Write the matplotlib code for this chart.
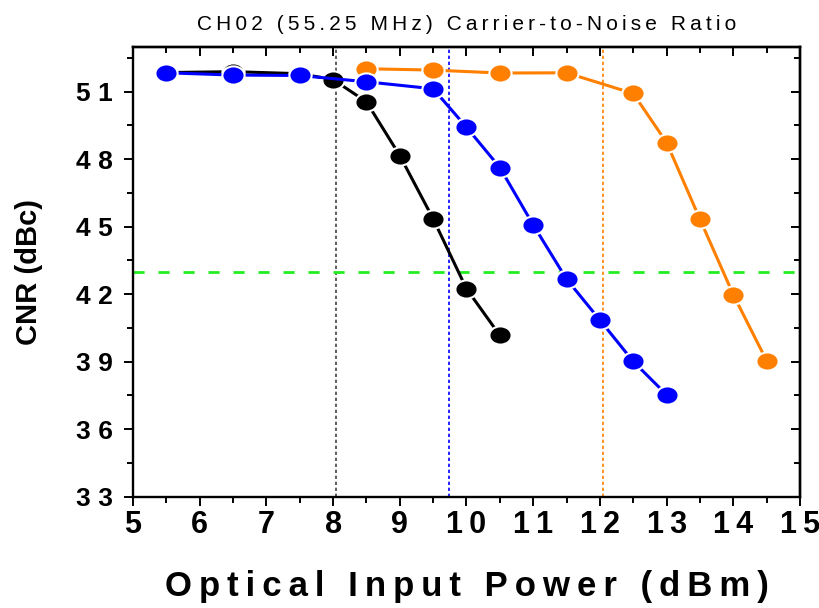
import matplotlib
matplotlib.use("Agg")
import matplotlib.pyplot as plt
import numpy as np
from matplotlib.path import Path

# CNR vs optical input power, three receiver configurations
power_black = [5.5, 6.5, 7.5, 8.0, 8.5, 9.0, 9.5, 10.0, 10.5]
cnr_black = [51.85, 51.89, 51.80, 51.54, 50.55, 48.16, 45.35, 42.24, 40.17]

power_blue = [5.5, 6.5, 7.5, 8.5, 9.5, 10.0, 10.5, 11.0, 11.5, 12.0, 12.5, 13.0]
cnr_blue = [51.84, 51.74, 51.72, 51.44, 51.13, 49.42, 47.63, 45.08, 42.67, 40.85, 39.01, 37.53]

power_orange = [8.5, 9.5, 10.5, 11.5, 12.5, 13.0, 13.5, 14.0, 14.5]
cnr_orange = [52.02, 51.96, 51.83, 51.84, 50.92, 48.74, 45.33, 41.98, 39.04]

# power where each curve crosses the 43 dBc limit
crossings = [8.05, 9.74, 12.05]
crossing_colors = ["#444444", "#0000ff", "#ff8000"]
cnr_limit = 43

x_ticks = [5, 6, 7, 8, 9, 10, 11, 12, 13, 14, 15]
y_ticks = [33, 36, 39, 42, 45, 48, 51]

SANS = ["Liberation Sans", "DejaVu Sans"]


def spaced(s, gap="\u2009"):
    return gap.join(s)


# slightly flattened dot marker
circ = Path.unit_circle()
dot = Path(circ.vertices * np.array([1.0, 0.82]), circ.codes)

fig = plt.figure(figsize=(8.2, 6.08), dpi=100)
ax = fig.add_axes([0.1622, 0.1831, 0.8134, 0.7401])

for xc, col in zip(crossings, crossing_colors):
    ax.axvline(xc, color=col, lw=1.2, ls=(0, (2, 1.6)), zorder=1)
ax.axhline(cnr_limit, color="#22ee22", lw=2.0, ls=(0, (4, 5)), zorder=1)

style = dict(marker=dot, markersize=16, markeredgecolor="white",
             markeredgewidth=1.5, lw=2.2, zorder=3)
ax.plot(power_black, cnr_black, color="black", markerfacecolor="black", **style)
ax.plot(power_orange, cnr_orange, color="#ff8000", markerfacecolor="#ff8000", **style)
ax.plot(power_blue, cnr_blue, color="#0000ff", markerfacecolor="#0000ff", **style)

ax.set_xlim(5, 15)
ax.set_ylim(33, 53)
ax.set_xticks(x_ticks)
ax.set_xticks(np.arange(5.5, 15, 1.0), minor=True)
ax.set_yticks(y_ticks)
ax.set_yticks(np.arange(34.5, 53, 3.0), minor=True)
ax.set_xticklabels([spaced(str(v)) for v in x_ticks],
                   family=SANS, fontweight="bold", fontsize=22)
ax.set_yticklabels([spaced(str(v), "\u2009\u200a") for v in y_ticks],
                   family=SANS, fontweight="bold", fontsize=19)

for s in ax.spines.values():
    s.set_linewidth(1.7)
ax.tick_params(which="both", direction="out", width=1.4, top=False, right=False)
ax.tick_params(which="major", length=6.5)
ax.tick_params(which="minor", length=4)
ax.tick_params(axis="x", pad=3)
ax.tick_params(axis="y", pad=8)

# inward ticks on the top and right edges
ax_top = ax.secondary_xaxis("top")
ax_top.set_xticks(x_ticks)
ax_top.set_xticks(np.arange(5.5, 15, 1.0), minor=True)
ax_top.tick_params(which="both", direction="in", width=1.4, labeltop=False)
ax_top.tick_params(which="major", length=6.5)
ax_top.tick_params(which="minor", length=4)
ax_top.spines["top"].set_linewidth(1.7)
ax_right = ax.secondary_yaxis("right")
ax_right.set_yticks(y_ticks)
ax_right.set_yticks(np.arange(34.5, 53, 3.0), minor=True)
ax_right.tick_params(which="both", direction="in", width=1.4, labelright=False)
ax_right.tick_params(which="major", length=6.5)
ax_right.tick_params(which="minor", length=4)
ax_right.spines["right"].set_linewidth(1.7)

ax.set_title(spaced("CH02 (55.25 MHz) Carrier-to-Noise Ratio", "\u2009"),
             family=SANS, fontsize=15, pad=12)
ax.set_xlabel(spaced("Optical Input Power (dBm)"), family=SANS,
              fontweight="bold", fontsize=25, labelpad=22)
ax.set_ylabel("CNR (dBc)", family=SANS, fontweight="bold", fontsize=21, labelpad=24)

fig.savefig("out.png", dpi=100)
